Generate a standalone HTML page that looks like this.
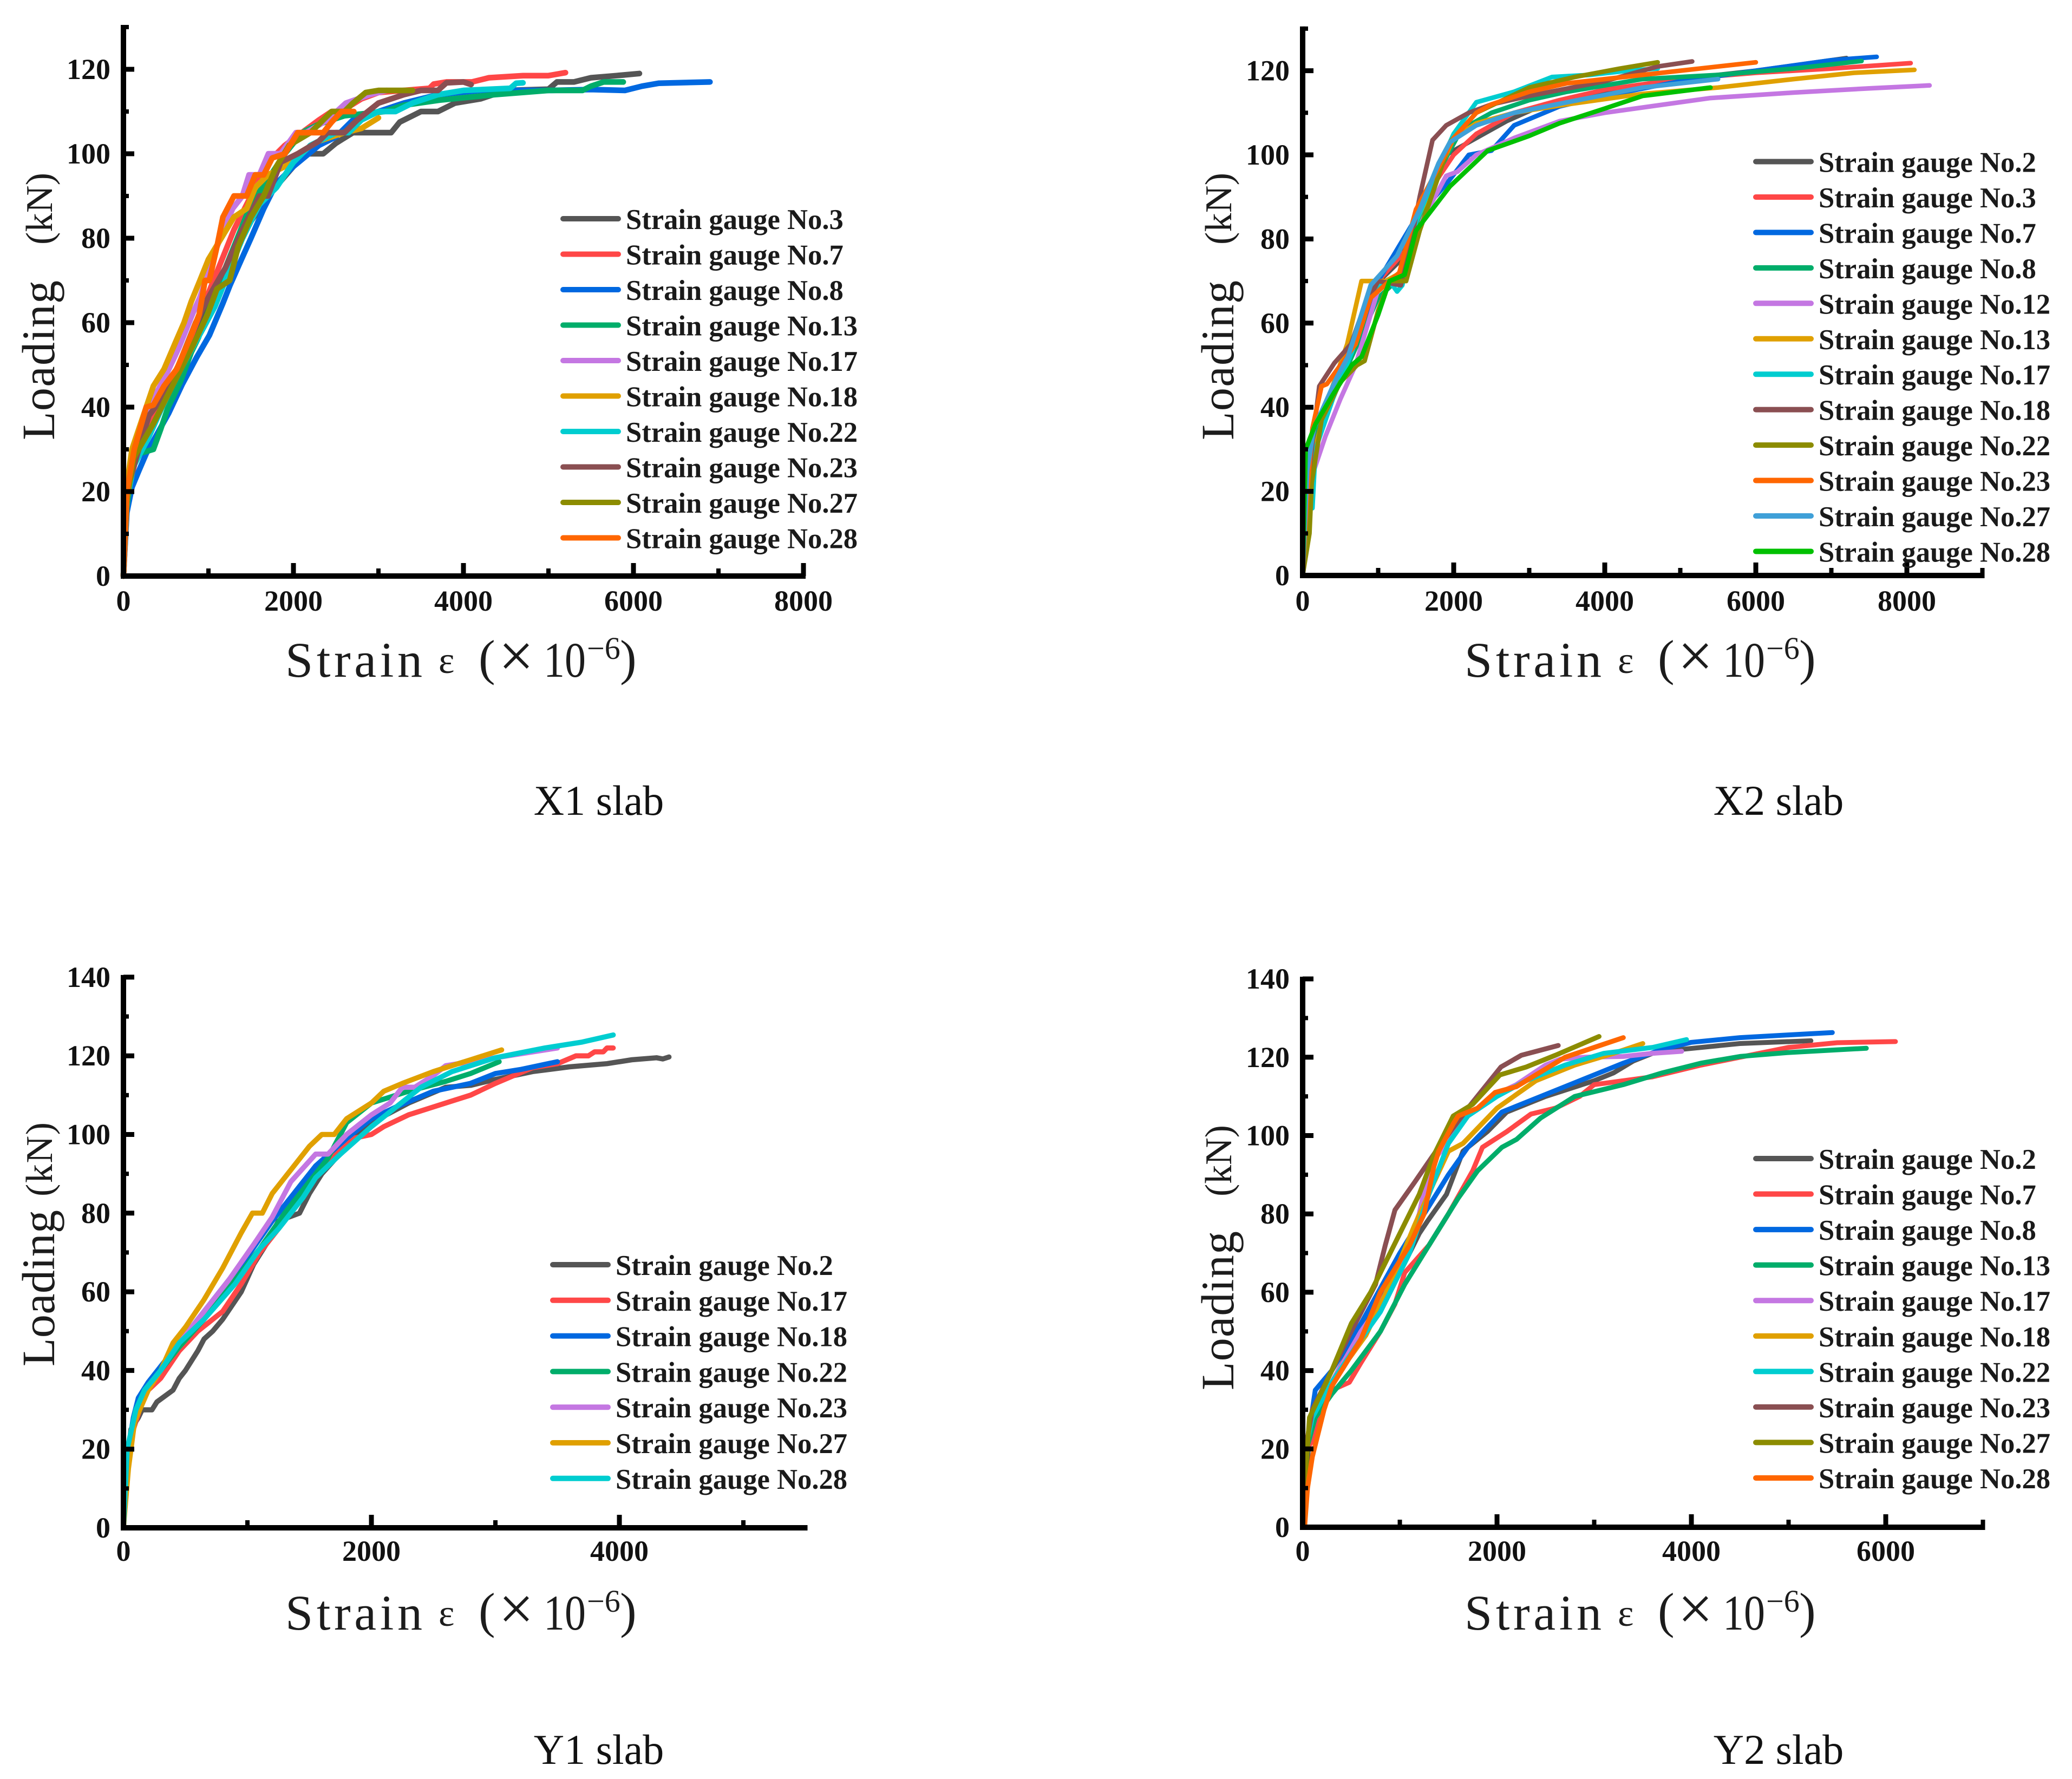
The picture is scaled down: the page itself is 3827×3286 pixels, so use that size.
<!DOCTYPE html>
<html lang="en">
<head>
<meta charset="utf-8">
<title>Strain gauge loading curves</title>
<style>
html,body{margin:0;padding:0;background:#fff;}
svg{display:block;}
text{font-family:"Liberation Serif","Noto Serif CJK SC",serif;}
.tick{font-weight:bold;font-size:54px;fill:#111;}
.leg{font-weight:bold;font-size:52.6px;fill:#1a1a1a;}
.ttl{font-size:92px;fill:#1c1c1c;}
.cap{font-size:78px;fill:#111;}
</style>
</head>
<body>
<svg id="fig" xmlns="http://www.w3.org/2000/svg" width="3827" height="3286" viewBox="0 0 3827 3286">
<rect width="3827" height="3286" fill="#fff"/>
<text class="cap" x="1106" y="1505" text-anchor="middle">X1 slab</text>
<text class="cap" x="3285" y="1505" text-anchor="middle">X2 slab</text>
<text class="cap" x="1106" y="3258" text-anchor="middle">Y1 slab</text>
<text class="cap" x="3285" y="3258" text-anchor="middle">Y2 slab</text>
</svg>
<script>
// ---------- shared palette names per gauge order ----------
const gray="#555555",red="#ff4747",blue="#0068e0",green="#00ad6a",purple="#c477e2",amber="#e0a000",cyan="#00cdd0",brown="#8a4f52",olive="#8c8c00",orange="#ff6600",skyblue="#3fa0d8",lime="#00c000";

// ---------- X1 slab ----------
const x1XTicks=[0,2000,4000,6000,8000];
const x1XMinor=[1000,3000,5000,7000];
const x1YTicks=[0,20,40,60,80,100,120];
const x1YMinor=[10,30,50,70,90,110,130];
const x1Names=["Strain gauge No.3","Strain gauge No.7","Strain gauge No.8","Strain gauge No.13","Strain gauge No.17","Strain gauge No.18","Strain gauge No.22","Strain gauge No.23","Strain gauge No.27","Strain gauge No.28"];
const x1No3=[[0,0],[30,15],[80,24],[200,30],[350,36],[500,42],[800,55],[1200,72],[1500,84],[1700,90],[2000,97],[2100,100],[2350,100],[2500,102.5],[2700,105],[3150,105],[3250,107.5],[3500,110],[3700,110],[3900,112],[4200,113],[4500,115],[5000,115.3],[5100,117],[5300,117],[5500,118],[5800,118.5],[6070,119]];
const x1No7=[[0,0],[50,20],[150,28],[310,36.4],[415,40.6],[550,46],[700,52],[900,62],[1100,72],[1300,82],[1500,90],[1700,98],[1900,102],[2100,105],[2300,108],[2450,110],[2560,110],[2800,113],[3000,114.5],[3300,115],[3600,115.5],[3650,116.5],[3800,117],[4100,117],[4300,118],[4700,118.5],[5000,118.5],[5200,119.2]];
const x1No8=[[0,0],[40,15],[100,21],[183,25],[268,29],[533,38.6],[692,45.4],[861,51.8],[1011,57],[1170,64.6],[1252,68.8],[1382,74.7],[1500,80],[1650,87],[1800,93],[2000,97],[2300,102],[2500,104],[2700,108],[3000,110],[3300,112],[3700,114],[4200,115],[5000,115],[5500,115.2],[5900,115],[6100,116],[6300,116.7],[6900,117]];
const x1No13=[[0,0],[30,15],[100,25],[183,29],[352,30],[437,34.7],[522,39.8],[670,46],[798,53],[883,56.5],[1100,68],[1300,78],[1500,88],[1700,94],[1900,100],[2100,105],[2300,107],[2600,109],[3070,110],[3300,111.5],[3720,112.7],[4370,114],[5000,115],[5400,115],[5500,116],[5650,117],[5880,117]];
const x1No17=[[0,0],[50,22],[150,32],[300,40],[501,47.6],[650,54],[820,62.4],[900,66],[1000,72],[1100,78],[1284,87],[1400,90],[1478,95],[1600,95],[1706,100],[1850,100],[2030,105],[2150,105],[2400,108],[2617,112],[2900,114],[3100,115]];
const x1No18=[[0,0],[30,20],[100,30],[268,40],[352,45],[478,49],[605,55],[713,60],[798,65],[900,70],[1000,75],[1150,80],[1300,85],[1450,87],[1550,92],[1700,95],[1900,97],[2050,100],[2300,103],[2600,105],[2800,106],[3000,108.5]];
const x1No22=[[0,0],[40,18],[120,26],[300,33],[500,42],[700,50],[947,59],[1075,63.8],[1300,75],[1400,80],[1600,88],[1800,92],[2000,98],[2200,102],[2500,105],[2650,105],[2800,108],[3000,110],[3200,110],[3400,112],[3700,114],[4000,115],[4550,115.5],[4620,116.7],[4700,116.8]];
const x1No23=[[0,0],[40,20],[150,28],[300,38],[450,42],[650,50],[850,60],[1000,66],[1200,73],[1400,82],[1600,90],[1700,90],[1850,98],[2050,100],[2300,103],[2400,105],[2600,105],[2750,108],[3000,112],[3300,114],[3500,115],[3700,115],[3800,116.8],[4000,117],[4090,116.4]];
const x1No27=[[0,0],[40,18],[120,28],[350,36],[500,42],[700,50],[820,54.7],[990,62],[1100,68],[1250,70],[1350,78],[1500,85],[1650,90],[1800,97],[1950,102],[2200,105],[2300,107],[2450,110],[2600,110],[2700,112],[2850,114.5],[3000,115],[3400,115]];
const x1No28=[[0,0],[40,20],[127,30],[268,40],[352,40.5],[478,45],[627,49],[754,55],[892,62],[960,70],[1010,70],[1100,78],[1170,85],[1300,90],[1450,90],[1550,95],[1650,95],[1750,99],[1900,100],[2050,105],[2350,105],[2450,107.5],[2567,110],[2710,110]];
const x1Series=[x1No3,x1No7,x1No8,x1No13,x1No17,x1No18,x1No22,x1No23,x1No27,x1No28];

// ---------- X2 slab ----------
const x2XTicks=[0,2000,4000,6000,8000];
const x2XMinor=[1000,3000,5000,7000,9000];
const x2YTicks=[0,20,40,60,80,100,120];
const x2YMinor=[10,30,50,70,90,110,130];
const x2Names=["Strain gauge No.2","Strain gauge No.3","Strain gauge No.7","Strain gauge No.8","Strain gauge No.12","Strain gauge No.13","Strain gauge No.17","Strain gauge No.18","Strain gauge No.22","Strain gauge No.23","Strain gauge No.27","Strain gauge No.28"];
const x2No2=[[0,0],[50,20],[200,35],[600,53],[900,68],[1300,75],[1600,90],[1900,100],[2300,104],[2700,108],[3200,112],[4000,115],[5000,118],[6000,120],[7200,123]];
const x2No3=[[0,0],[60,20],[200,37],[600,52],[900,68],[1400,78],[1700,92],[2000,100],[2300,105],[2800,110],[3400,113],[4000,115.5],[5000,118],[6000,119.5],[7000,120.5],[8050,121.8]];
const x2No7=[[0,0],[50,20],[200,35],[600,50],[1000,70],[1500,85],[1900,93],[2200,100],[2500,101],[2800,107],[3400,111.5],[4000,114],[5000,117.5],[6000,120],[7000,122.5],[7600,123.3]];
const x2No8=[[0,0],[40,25],[200,36],[600,50],[1000,66],[1300,71],[1500,82],[1800,96],[2100,106],[2500,110],[3000,113],[3500,115],[4500,118],[5500,119],[6500,120.5],[7400,122.3]];
const x2No12=[[0,0],[60,15],[150,25],[300,33],[500,42],[700,50],[1000,68],[1300,72],[1600,85],[1900,95],[2050,96],[2300,100],[2800,104],[3400,108],[4000,110],[5400,113.5],[6500,114.8],[7500,115.8],[8300,116.5]];
const x2No13=[[0,0],[40,15],[100,25],[300,40],[590,55],[780,70],[1100,70],[1300,72],[1500,84],[1800,96],[2000,104],[2300,107.5],[2800,110],[3500,112],[4500,114.5],[5500,116],[6500,118],[7300,119.5],[8100,120.2]];
const x2No17=[[0,0],[100,16],[130,16],[170,30],[400,42],[650,53],[900,68],[1150,70],[1250,67.5],[1320,69],[1500,84],[1800,97],[2000,105],[2300,112.5],[2800,115],[3300,118.5],[3800,119],[4300,120],[4700,120.5]];
const x2No18=[[0,0],[60,20],[120,30],[220,45],[420,50.5],[640,55],[800,63],[1000,70],[1300,69],[1400,76],[1550,90],[1720,103.5],[1900,107],[2200,110],[2500,112],[3000,114],[4000,117.5],[4700,121],[5158,122.2]];
const x2No22=[[0,0],[90,10],[120,22],[250,37],[500,46],[720,50],[820,51],[1000,63],[1150,70],[1370,70],[1550,82],[1800,95],[1950,103],[2300,110],[3000,116],[3600,118.5],[4200,120.5],[4700,122]];
const x2No23=[[0,0],[60,20],[130,35],[250,45],[320,45.5],[500,50],[700,55],[900,66],[1150,70],[1280,72],[1500,87],[1800,97],[2000,104],[2300,110],[2500,112],[3000,115],[3500,117],[4500,119],[5500,121],[6000,122]];
const x2No27=[[0,0],[60,25],[150,35],[450,47],[600,52],[900,69],[1250,76],[1550,87],[1800,98],[1950,103],[2300,107],[2800,110],[3500,112.5],[4500,116],[5500,118]];
const x2No28=[[0,0],[40,30],[170,36],[400,43],[650,50],[780,52],[1000,62],[1150,70],[1350,71.5],[1500,82],[1950,92.5],[2450,101],[3000,104.5],[3400,107.5],[4000,111],[4500,114],[5400,116]];
const x2Series=[x2No2,x2No3,x2No7,x2No8,x2No12,x2No13,x2No17,x2No18,x2No22,x2No23,x2No27,x2No28];

// ---------- Y1 slab ----------
const y1XTicks=[0,2000,4000];
const y1XMinor=[1000,3000,5000];
const y1YTicks=[0,20,40,60,80,100,120,140];
const y1YMinor=[10,30,50,70,90,110,130];
const y1Names=["Strain gauge No.2","Strain gauge No.17","Strain gauge No.18","Strain gauge No.22","Strain gauge No.23","Strain gauge No.27","Strain gauge No.28"];
const y1No2=[[0,0],[30,15],[60,25],[120,28],[150,30],[230,30],[270,32],[400,35],[450,38],[500,40],[600,45],[650,48],[720,50],[800,53],[950,60],[1050,67],[1150,72],[1250,78],[1420,80],[1500,85],[1600,90],[1800,97],[2000,103],[2300,108],[2600,112],[2800,112.5],[3000,114],[3300,116],[3600,117.2],[3900,118],[4100,119],[4300,119.5],[4350,119.2],[4400,119.7]];
const y1No17=[[0,0],[30,15],[80,25],[130,30],[200,35],[300,38],[450,45],[600,50],[800,55],[950,62],[1100,70],[1300,78],[1500,88],[1700,95],[1850,99],[2000,100],[2100,102],[2300,105],[2500,107],[2800,110],[3000,113],[3150,115],[3300,117],[3500,118],[3650,120],[3750,120],[3800,121],[3870,121],[3900,122],[3950,122]];
const y1No18=[[0,0],[30,18],[80,28],[120,33],[200,37],[300,41],[450,47],[600,53],[800,61],[1000,69],[1200,78],[1400,86],[1550,92],[1800,99],[2000,104],[2200,107],[2500,111],[2800,113],[3000,115.5],[3200,116.5],[3500,118.5]];
const y1No22=[[0,0],[30,18],[100,28],[180,35],[300,40],[450,46],[650,53],[900,63],[1100,71],[1300,80],[1500,88],[1650,94],[1800,103],[2000,108],[2300,111],[2600,113.5],[2800,115.5],[3030,118.5]];
const y1No23=[[0,0],[30,18],[90,28],[170,35],[300,40],[450,47],[650,55],[850,63],[1050,72],[1200,79],[1350,88],[1550,95],[1650,95],[1800,100],[2000,105],[2150,108],[2250,112],[2350,112],[2500,115],[2600,117.5],[2800,118.5],[3100,120],[3500,122]];
const y1No27=[[0,0],[40,15],[90,27],[200,35],[300,40],[400,47],[500,51],[650,58],[800,66],[950,75],[1040,80],[1120,80],[1200,85],[1350,91],[1500,97],[1600,100],[1700,100],[1800,104],[2000,108],[2100,111],[2250,113],[2500,116],[2700,118],[2800,119],[3050,121.5]];
const y1No28=[[0,0],[30,20],[100,30],[170,35],[300,40],[450,47],[650,53],[900,62],[1100,71],[1250,76],[1350,80],[1450,84],[1550,89],[1750,95],[2000,102],[2200,107],[2400,112],[2650,116],[3000,119.5],[3400,122],[3700,123.5],[3950,125.3]];
const y1Series=[y1No2,y1No17,y1No18,y1No22,y1No23,y1No27,y1No28];

// ---------- Y2 slab ----------
const y2XTicks=[0,2000,4000,6000];
const y2XMinor=[1000,3000,5000,7000];
const y2YTicks=[0,20,40,60,80,100,120,140];
const y2YMinor=[10,30,50,70,90,110,130];
const y2Names=["Strain gauge No.2","Strain gauge No.7","Strain gauge No.8","Strain gauge No.13","Strain gauge No.17","Strain gauge No.18","Strain gauge No.22","Strain gauge No.23","Strain gauge No.27","Strain gauge No.28"];
const y2No2=[[0,0],[40,15],[100,30],[300,37],[700,55],[1000,65],[1200,75],[1280,78],[1480,85],[1650,96],[1900,101],[2100,106],[2500,110],[3000,114],[3200,116],[3400,119],[3600,121],[3900,122],[4500,123.5],[5230,124.2]];
const y2No7=[[0,0],[40,20],[100,22],[200,30],[300,35],[480,37],[600,42],[800,50],[950,57],[1050,65],[1300,72],[1500,80],[1750,91],[1850,97],[2100,101],[2350,105.5],[2600,107],[2850,110],[3000,113],[3600,115],[4100,118],[4600,120.5],[5000,122.5],[5500,123.7],[6100,124]];
const y2No8=[[0,0],[40,20],[130,35],[300,40],[600,52],[1000,70],[1250,80],[1500,90],[1700,97],[2050,106],[2500,110.5],[3000,115.5],[3300,118.5],[3700,122],[4000,123.8],[4500,125],[5000,125.7],[5450,126.3]];
const y2No13=[[0,0],[40,20],[130,28],[300,34],[500,40],[800,50],[1050,62],[1300,72],[1600,84],[1800,91],[2050,97],[2200,99],[2450,104.5],[2800,110],[3300,113],[3700,116],[4100,118.5],[4500,120.2],[5000,121.2],[5800,122.3]];
const y2No17=[[0,0],[30,20],[100,30],[300,37],[600,50],[800,57],[1000,67],[1200,80],[1300,92],[1450,97],[1700,105],[1950,110],[2200,113],[2500,118],[2650,119.5],[2900,120],[3300,120.2],[3600,121],[3900,121.5]];
const y2No18=[[0,0],[30,20],[100,30],[300,37],[650,49],[900,62],[1150,77],[1350,88],[1500,96],[1650,98],[2000,107],[2400,114],[2800,118],[3200,121],[3500,123.5]];
const y2No22=[[0,0],[30,20],[100,28],[300,37],[600,48],[800,55],[1100,70],[1300,85],[1500,98],[1700,105],[2000,110],[2300,114],[2700,118],[3100,121],[3600,122.5],[3950,124.5]];
const y2No23=[[0,0],[30,20],[100,30],[300,40],[500,50],[750,62],[850,72],[950,81],[1150,88],[1400,97],[1700,107],[2040,117.5],[2250,120.5],[2630,123]];
const y2No27=[[0,0],[20,10],[70,28],[300,40],[500,52],[700,60],[1000,75],[1200,85],[1350,95],[1550,105],[1750,108],[2030,115.5],[2300,117.5],[2600,120.5],[3050,125.3]];
const y2No28=[[0,0],[20,0],[50,10],[100,18],[220,30],[300,36],[450,42],[600,48],[800,60],[1100,72],[1250,80],[1350,92],[1400,96],[1550,103],[1600,105],[1800,107],[1980,111],[2200,112.5],[2500,117],[2700,120],[3000,122.5],[3300,125]];
const y2Series=[y2No2,y2No7,y2No8,y2No13,y2No17,y2No18,y2No22,y2No23,y2No27,y2No28];

// ---------- drawing ----------
const NS="http://www.w3.org/2000/svg";
const fig=document.getElementById("fig");
const palette=[gray,red,blue,green,purple,amber,cyan,brown,olive,orange,skyblue,lime];

function mk(parent,tag,attrs,txt){
  const el=document.createElementNS(NS,tag);
  for(const k in attrs){el.setAttribute(k,attrs[k]);}
  if(txt!==undefined){el.textContent=txt;}
  parent.appendChild(el);
  return el;
}
function slug(s){return s.toLowerCase().replace(/[^a-z0-9]+/g,"-");}

function drawPanel(p){
  const sx=v=>p.x0+v*p.pxPerStrain;
  const sy=v=>p.y0-v*p.pxPerKn;
  const g=mk(fig,"g",{});
  
  

  // series
  const seriesGroup=mk(g,"g",{fill:"none","stroke-linejoin":"round","stroke-linecap":"round","stroke-width":p.lw});
  
  
  p.series.forEach((pts,i)=>{
    const d=pts.map((q,j)=>(j?"L":"M")+sx(q[0]).toFixed(1)+" "+sy(q[1]).toFixed(1)).join("");
    const line=mk(seriesGroup,"path",{d:d,stroke:palette[i]});
    
    
  });

  // axes
  const xEnd=sx(p.xMax), yTop=sy(p.yMax);
  const yAxis=mk(g,"line",{x1:p.x0,x2:p.x0,y1:yTop-4,y2:p.y0+5,stroke:"#000","stroke-width":10});
  
  
  const xAxis=mk(g,"line",{x1:p.x0-5,x2:xEnd+4,y1:p.y0,y2:p.y0,stroke:"#000","stroke-width":10});
  
  

  p.xTicks.forEach(v=>{
    if(v!==0){
      const t=mk(g,"line",{x1:sx(v),x2:sx(v),y1:p.y0,y2:p.y0-24,stroke:"#000","stroke-width":9});
      
      
    }
    const lab=mk(g,"text",{class:"tick",x:sx(v),y:p.xLabelY,"text-anchor":"middle"},String(v));
    
    
  });
  p.xMinor.forEach(v=>{
    const t=mk(g,"line",{x1:sx(v),x2:sx(v),y1:p.y0,y2:p.y0-14,stroke:"#000","stroke-width":8});
    
    
  });
  p.yTicks.forEach(v=>{
    if(v!==0){
      const t=mk(g,"line",{x1:p.x0,x2:p.x0+20,y1:sy(v),y2:sy(v),stroke:"#000","stroke-width":9});
      
      
    }
    const lab=mk(g,"text",{class:"tick",x:p.x0-24,y:sy(v)+18,"text-anchor":"end"},String(v));
    
    
  });
  p.yMinor.forEach(v=>{
    const t=mk(g,"line",{x1:p.x0,x2:p.x0+10,y1:sy(v),y2:sy(v),stroke:"#000","stroke-width":8});
    
    
  });

  // x-axis title
  const tx=p.x0, by=p.xTitleY;
  const xt=mk(g,"g",{});
  
  
  mk(xt,"text",{class:"ttl",x:tx+299,y:by,textLength:253,lengthAdjust:"spacing"},"Strain");
  mk(xt,"text",{class:"ttl",x:tx+582,y:by-7,"style":"font-size:70px"},"ε");
  mk(xt,"text",{class:"ttl",x:tx+656,y:by-4},"(");
  mk(xt,"text",{class:"ttl",x:tx+693,y:by,"style":"font-size:115px"},"×");
  mk(xt,"text",{class:"ttl",x:tx+776,y:by,textLength:78,lengthAdjust:"spacingAndGlyphs"},"10");
  mk(xt,"text",{class:"ttl",x:tx+856,y:by-33,"style":"font-size:58px"},"−6");
  mk(xt,"text",{class:"ttl",x:tx+917,y:by-4},")");

  // y-axis title
  const bx=p.x0-128;
  const yt=mk(g,"g",{});
  
  
  mk(yt,"text",{class:"ttl",style:"font-size:86px",transform:"translate("+bx+" "+p.loadStart+") rotate(-90)",textLength:p.loadLen,lengthAdjust:"spacing"},"Loading");
  mk(yt,"text",{class:"ttl",style:"font-size:70px",transform:"translate("+(bx-4)+" "+p.knStart+") rotate(-90)",textLength:p.knLen,lengthAdjust:"spacing"},"(kN)");

  // legend
  const lg=mk(g,"g",{});
  
  
  p.names.forEach((n,i)=>{
    const y=p.legTop+i*p.legStep;
    const e=mk(lg,"g",{});
    
    
    mk(e,"line",{x1:p.legX+4,x2:p.legX+106,y1:y,y2:y,stroke:palette[i],"stroke-width":10,"stroke-linecap":"round"});
    mk(e,"text",{class:"leg",x:p.legX+120,y:y+19},n);
  });
}

drawPanel({id:"x1-slab",series:x1Series,names:x1Names,xTicks:x1XTicks,xMinor:x1XMinor,yTicks:x1YTicks,yMinor:x1YMinor,
  x0:228,y0:1064,pxPerStrain:0.157,pxPerKn:7.8,xMax:8000,yMax:130,lw:10.5,xLabelY:1128,xTitleY:1250,
  loadStart:813,loadLen:295,knStart:452,knLen:133,legX:1036,legTop:404,legStep:65.5});
drawPanel({id:"x2-slab",series:x2Series,names:x2Names,xTicks:x2XTicks,xMinor:x2XMinor,yTicks:x2YTicks,yMinor:x2YMinor,
  x0:2406,y0:1063,pxPerStrain:0.1395,pxPerKn:7.77,xMax:9000,yMax:130,lw:8.5,xLabelY:1128,xTitleY:1250,
  loadStart:813,loadLen:295,knStart:452,knLen:133,legX:3239,legTop:298.5,legStep:65.45});
drawPanel({id:"y1-slab",series:y1Series,names:y1Names,xTicks:y1XTicks,xMinor:y1XMinor,yTicks:y1YTicks,yMinor:y1YMinor,
  x0:228,y0:2822,pxPerStrain:0.229,pxPerKn:7.265,xMax:5500,yMax:140,lw:9.5,xLabelY:2883,xTitleY:3010,
  loadStart:2524,loadLen:289,knStart:2210,knLen:137,legX:1017,legTop:2336,legStep:65.8});
drawPanel({id:"y2-slab",series:y2Series,names:y2Names,xTicks:y2XTicks,xMinor:y2XMinor,yTicks:y2YTicks,yMinor:y2YMinor,
  x0:2406,y0:2821,pxPerStrain:0.1795,pxPerKn:7.235,xMax:7000,yMax:140,lw:9,xLabelY:2883,xTitleY:3010,
  loadStart:2568,loadLen:294,knStart:2210,knLen:132,legX:3239,legTop:2140,legStep:65.55});
</script>
</body>
</html>
